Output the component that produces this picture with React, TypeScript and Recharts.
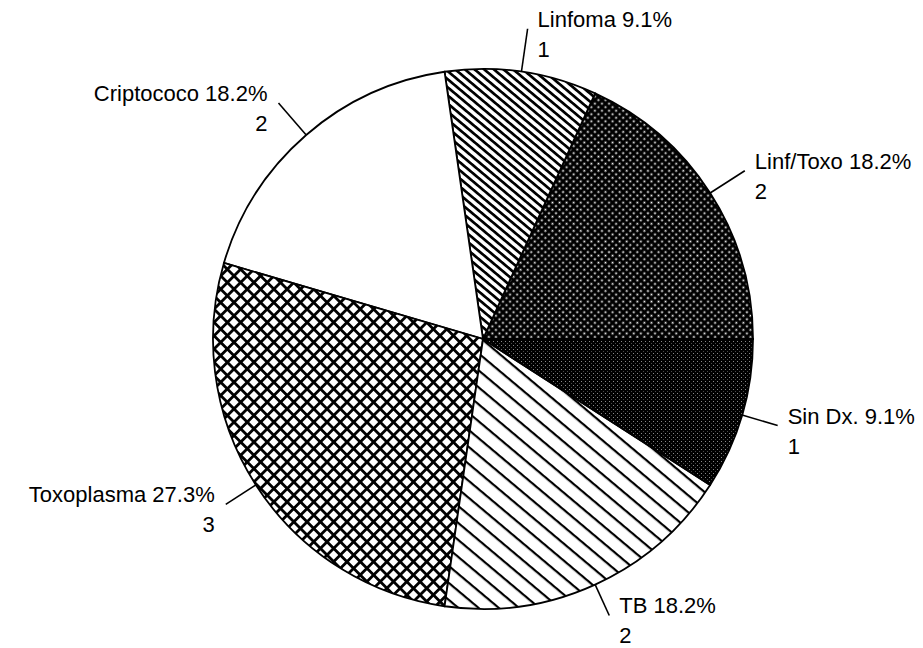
import React from 'react';
import { PieChart, Pie, Cell } from 'recharts';

// slices in drawing order, counter-clockwise from 3 o'clock
const names = ['Linf/Toxo', 'Linfoma', 'Criptococo', 'Toxoplasma', 'TB', 'Sin Dx.'];
const counts = [2, 1, 2, 3, 2, 1];
const fills = ['url(#pLinfToxo)', 'url(#pLinfoma)', '#ffffff', 'url(#pToxo)', 'url(#pTB)', 'url(#pSinDx)'];

const data = names.map((name, i) => ({ name, value: counts[i] }));

const RAD = Math.PI / 180;
const FONT = "'Liberation Sans', Arial, sans-serif";

const SliceLabel = (props: any) => {
  const { cx, cy, midAngle, outerRadius, percent, name, value } = props;
  const cos = Math.cos(-midAngle * RAD);
  const sin = Math.sin(-midAngle * RAD);
  // leaders on the upper half are a bit longer, as in the original
  const len = 38.5 - 5 * sin;
  const sx = cx + outerRadius * cos;
  const sy = cy + outerRadius * sin;
  const ex = cx + (outerRadius + len) * cos;
  const ey = cy + (outerRadius + len) * sin;
  const right = cos >= 0;
  const tx = right ? ex + 10 : ex - 11;
  const anchor = right ? 'start' : 'end';
  return (
    <g>
      <line x1={sx} y1={sy} x2={ex} y2={ey} stroke="#000" strokeWidth={1.6} />
      <text x={tx} y={ey - 2} textAnchor={anchor} fill="#000" fontSize={22} fontFamily={FONT}>
        {`${name} ${(percent * 100).toFixed(1)}%`}
      </text>
      <text x={tx} y={ey + 28} textAnchor={anchor} fill="#000" fontSize={22} fontFamily={FONT}>
        {value}
      </text>
    </g>
  );
};

const App: React.FC = () => {
  return (
    <div style={{ width: 907, height: 640, background: '#fff' }}>
      <PieChart width={907} height={640} margin={{ top: 0, right: 0, bottom: 0, left: 0 }}>
        <defs>
          <pattern id="pLinfoma" width="6.2" height="6.2" patternUnits="userSpaceOnUse" patternTransform="rotate(40)">
            <rect width="6.2" height="6.2" fill="#fff" />
            <rect width="6.2" height="2.7" fill="#000" />
          </pattern>
          <pattern id="pTB" width="13" height="13" patternUnits="userSpaceOnUse" patternTransform="rotate(40)">
            <rect width="13" height="13" fill="#fff" />
            <rect width="13" height="2.2" fill="#000" />
          </pattern>
          <pattern id="pToxo" width="9.4" height="9.4" patternUnits="userSpaceOnUse" patternTransform="rotate(45)">
            <rect width="9.4" height="9.4" fill="#fff" />
            <rect width="9.4" height="2.8" fill="#000" />
            <rect width="2.8" height="9.4" fill="#000" />
          </pattern>
          <pattern id="pLinfToxo" width="5" height="5" patternUnits="userSpaceOnUse" patternTransform="rotate(45)">
            <rect width="5" height="5" fill="#000" />
            <rect x="1.7" y="1.7" width="1.8" height="1.8" fill="#fff" />
          </pattern>
          <pattern id="pSinDx" width="4" height="4" patternUnits="userSpaceOnUse">
            <rect width="4" height="4" fill="#000" />
            <rect x="1" y="1" width="1" height="1" fill="#8a8a8a" />
            <rect x="3" y="3" width="1" height="1" fill="#4a4a4a" />
          </pattern>
        </defs>
        <Pie
          data={data}
          dataKey="value"
          nameKey="name"
          cx={475}
          cy={331}
          outerRadius={270}
          startAngle={0}
          endAngle={360}
          stroke="#000"
          strokeWidth={1.8}
          label={SliceLabel}
          labelLine={false}
          isAnimationActive={false}
        >
          {data.map((d, i) => (
            <Cell key={d.name} fill={fills[i]} />
          ))}
        </Pie>
      </PieChart>
    </div>
  );
};

export default App;
